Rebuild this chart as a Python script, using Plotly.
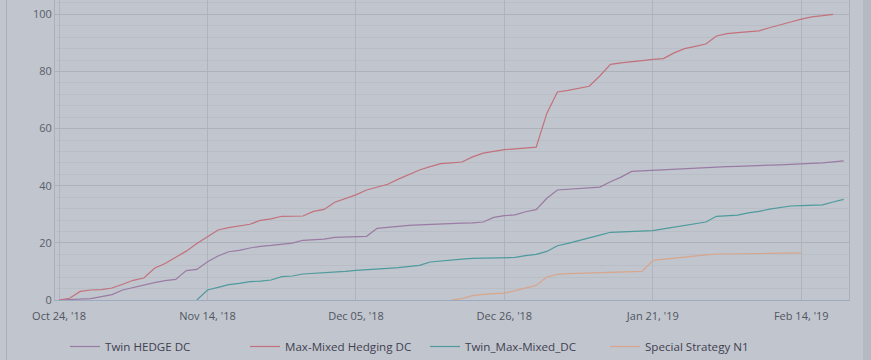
import plotly.graph_objects as go

# ---- data ----
tick_labels = ["Oct 24, '18", "Nov 14, '18", "Dec 05, '18", "Dec 26, '18", "Jan 21, '19", "Feb 14, '19"]
tick_positions = [0, 14, 28, 42, 56, 70]
n_points = 75
point_index = list(range(n_points))

twin_hedge = [0, 0.2, 0.35, 0.5, 1.2, 1.9, 3.5, 4.4, 5.2, 6.1, 6.8, 7.2, 10.3, 10.7, 13.4,
              15.4, 16.9, 17.4, 18.2, 18.8, 19.1, 19.5, 19.9, 20.9, 21.1, 21.3, 21.9, 22.0, 22.1,
              22.3, 25.1, 25.5, 25.9, 26.1, 26.3, 26.5, 26.7, 26.8, 26.9, 27.0, 27.3, 28.9, 29.5,
              29.8, 30.9, 31.6, 35.6, 38.5, 38.7, 38.9, 39.2, 39.5, 41.4, 43.0, 45.0, 45.2, 45.5,
              45.7, 45.8, 46.0, 46.2, 46.4, 46.6, 46.7, 46.8, 47.0, 47.1, 47.2, 47.3, 47.4, 47.6,
              47.8, 48.0, 48.3, 48.7]

max_mixed = [0, 0.6, 3.0, 3.5, 3.6, 4.2, 5.5, 6.9, 7.7, 11.1, 12.8, 14.8, 17.1, 19.8, 22.1,
             24.5, 25.3, 26.0, 26.5, 27.9, 28.4, 29.3, 29.3, 29.4, 31.0, 31.7, 34.2, 35.4, 36.8,
             38.5, 39.6, 40.5, 42.3, 44.0, 45.5, 46.7, 47.7, 48.0, 48.3, 50.1, 51.4, 52.0, 52.6,
             52.9, 53.3, 53.5, 65.3, 72.8, 73.4, 74.0, 74.8, 78.4, 82.5, 83.0, 83.3, 83.8, 84.2,
             84.5, 86.5, 88.0, 88.8, 89.6, 92.4, 93.2, 93.6, 93.8, 94.2, 95.3, 96.4, 97.3, 98.3,
             99.1, 99.5, 100.0, None]

twin_max_mixed = [None] * 13 + [0, 3.5, 4.4, 5.4, 5.8, 6.4, 6.6, 7.0, 8.2, 8.4, 9.1, 9.3, 9.4,
                  9.7, 10.0, 10.4, 10.7, 10.8, 11.1, 11.3, 11.6, 12.1, 13.3, 13.7, 14.1, 14.3,
                  14.6, 14.7, 14.7, 14.8, 14.9, 15.5, 16.0, 17.0, 19.0, 19.8, 20.7, 21.8, 22.7,
                  23.7, 23.8, 23.9, 24.1, 24.3, 24.9, 25.5, 26.2, 26.8, 27.3, 29.3, 29.5, 29.7,
                  30.5, 31.0, 31.8, 32.4, 32.9, 33.0, 33.1, 33.3, 34.3, 35.2]

special_n1 = [None] * 37 + [0, 0.5, 1.5, 2.0, 2.2, 2.4, 3.3, 4.1, 5.1, 8.0, 9.0, 9.2, 9.3, 9.4,
              9.7, 9.8, 9.8, 9.9, 10.0, 13.9, 14.3, 14.8, 15.2, 15.5, 15.8, 16.1, 16.1, 16.2,
              16.2, 16.3, 16.3, 16.4, 16.5, 16.5] + [None] * 4

series = [
    ("Twin HEDGE DC", twin_hedge, "#9a7ba3"),
    ("Max-Mixed Hedging DC", max_mixed, "#c2727c"),
    ("Twin_Max-Mixed_DC", twin_max_mixed, "#4d9b9c"),
    ("Special Strategy N1", special_n1, "#d7a68c"),
]

BG = "#c1c5ce"
FONT = "Open Sans"

fig = go.Figure()
for name, vals, color in series:
    fig.add_trace(go.Scatter(x=point_index, y=vals, name=name, mode="lines",
                             line=dict(color=color, width=1.2), connectgaps=False))

W, H = 871, 360
ml, mr, mt, mb = 55, 22, 0, 60
pw = W - ml - mr
ph = H - mt - mb

fig.update_layout(
    width=W, height=H,
    margin=dict(l=ml, r=mr, t=mt, b=mb, pad=0, autoexpand=False),
    paper_bgcolor=BG, plot_bgcolor=BG,
    font=dict(family=FONT, size=11, color="#5a5e68"),
    showlegend=True,
    legend=dict(orientation="h", x=(65 - ml) / pw, xanchor="left",
                y=-(332 - ph) / ph, yanchor="top",
                entrywidth=135, entrywidthmode="pixels",
                font=dict(family=FONT, size=11.6, color="#413f50"),
                bgcolor="rgba(0,0,0,0)"),
    xaxis=dict(range=[-0.38, 74.5], tickmode="array", tickvals=tick_positions,
               ticktext=tick_labels, showgrid=True, gridcolor="#b0b4bd", gridwidth=1,
               showline=True, linecolor="#9eaac2", linewidth=1, zeroline=False,
               ticks="", automargin=False, ticklabelstandoff=6,
               tickfont=dict(size=11, color="#50555f")),
    yaxis=dict(range=[0, 105], tickmode="linear", tick0=0, dtick=20, showgrid=True,
               gridcolor="#adb1ba", gridwidth=1, zeroline=False, automargin=False,
               showline=True, linecolor="#acb0b9", mirror=True, ticks="",
               tickfont=dict(size=11, color="#5a5e68"),
               minor=dict(dtick=4, tick0=0, showgrid=True, gridcolor="#b9bdc6", gridwidth=1)),
    shapes=[
        dict(type="line", xref="paper", yref="paper",
             x0=(6.5 - ml) / pw, x1=(6.5 - ml) / pw, y0=-mb / ph, y1=1,
             line=dict(color="#a9adb6", width=1)),
        dict(type="rect", xref="paper", yref="paper",
             x0=(863 - ml) / pw, x1=(872 - ml) / pw, y0=-mb / ph - 0.01, y1=1.01,
             fillcolor="#b5b9c2", line=dict(width=0), layer="below"),
    ],
)

fig.write_html("out.html",
               config={"displayModeBar": False},
               post_script="document.body.style.margin='0';document.body.style.overflow='hidden';")
